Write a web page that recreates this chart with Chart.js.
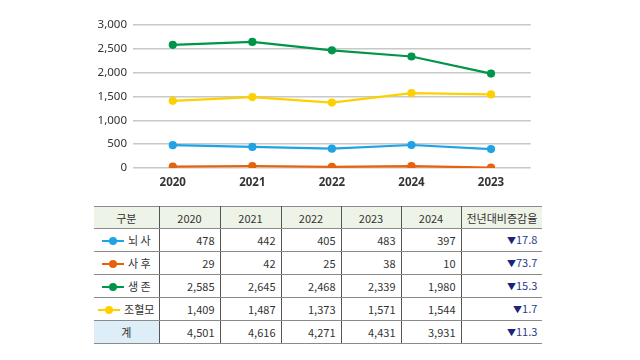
<!DOCTYPE html>
<html>
<head>
<meta charset="utf-8">
<script src="https://cdn.jsdelivr.net/npm/chart.js@4"></script>
<style>
  body { margin: 0; width: 640px; height: 360px; background: #fff; overflow: hidden;
         font-family: "Noto Sans CJK KR", "Noto Sans", sans-serif; }
  #chartBox { position: absolute; left: 80px; top: 0; width: 456px; height: 193px; }
  table { position: absolute; left: 94px; top: 206px; border-collapse: collapse;
          font-size: 11px; line-height: 12px; color: #333; table-layout: fixed; }
  th, td { border-top: 1px solid #8a8a8a; border-bottom: 1px solid #8a8a8a;
           border-left: 1px solid #555; border-right: 1px solid #555; padding: 0 5px;
           white-space: nowrap; overflow: hidden; }
  tr > :first-child { border-left: none; }
  tr > :last-child { border-right: none; }
  th { background: #eef3e7; font-weight: normal; height: 21px; }
  td { height: 22px; text-align: right; }
  td.name { text-align: center; padding: 0 2px; }
  td.rate { color: #2c3a8a; }
  td.rate b { font-size: 9px; font-weight: normal; color: #1a237e; }
  tr.total td.name { background: #deeef9; }
  .mark { display: inline-block; position: relative; width: 22px; height: 2px;
          vertical-align: middle; margin-right: 4px; top: -1px; }
  .mark i { position: absolute; left: 7px; top: -3px; width: 8px; height: 8px; border-radius: 50%; }
</style>
</head>
<body>
<div id="chartBox"><canvas id="c"></canvas></div>
<table id="t"></table>
<script>
// x-axis labels as printed on the chart
var chartLabels = ['2020', '2021', '2022', '2024', '2023'];
var years = ['2020', '2021', '2022', '2023', '2024'];
var seriesNames = ['뇌사', '사후', '생존', '조혈모'];
var brainDeath = [478, 442, 405, 483, 397];
var afterDeath = [29, 42, 25, 38, 10];
var living = [2585, 2645, 2468, 2339, 1980];
var marrow = [1409, 1487, 1373, 1571, 1544];
var totals = [4501, 4616, 4271, 4431, 3931];
var rates = ['17.8', '73.7', '15.3', '1.7', '11.3'];
var colors = ['#1fa3e4', '#e8620c', '#00964a', '#ffd000'];

var seriesData = [brainDeath, afterDeath, living, marrow];

var datasets = seriesNames.map(function(name, i) {
  return {
    label: name,
    data: seriesData[i],
    borderColor: colors[i],
    backgroundColor: colors[i],
    borderWidth: 2.2,
    pointRadius: 3,
    pointHoverRadius: 3,
    tension: 0
  };
});

new Chart(document.getElementById('c'), {
  type: 'line',
  data: { labels: chartLabels, datasets: datasets },
  options: {
    responsive: true,
    maintainAspectRatio: false,
    animation: false,
    layout: { padding: { top: 25, right: 1, bottom: 0, left: 0 } },
    plugins: { legend: { display: false }, tooltip: { enabled: false } },
    scales: {
      x: {
        offset: true,
        grid: { display: false },
        border: { display: false },
        ticks: { color: '#333', padding: 0, font: { size: 11.5, weight: 'bold', family: 'Noto Sans' } },
        afterFit: function(s) { s.height = 25; }
      },
      y: {
        min: 0, max: 3000,
        ticks: { stepSize: 500, color: '#333', padding: 6,
                 font: { size: 11.5, family: 'Noto Sans' },
                 callback: function(v) { return v.toLocaleString('en-US'); } },
        grid: { color: '#c8c8c8', lineWidth: 1.5, drawTicks: false },
        border: { display: false },
        afterFit: function(s) { s.width = 53; }
      }
    }
  }
});

// table under the chart
var colW = [65, 61, 61, 60, 60, 60, 76];
var t = document.getElementById('t');
var cg = '<colgroup>' + colW.map(function(w) { return '<col style="width:' + w + 'px">'; }).join('') + '</colgroup>';
var html = cg + '<tr><th>구분</th>' + years.map(function(y) { return '<th>' + y + '</th>'; }).join('') + '<th>전년대비증감율</th></tr>';
function fmt(v) { return v.toLocaleString('en-US'); }
function rateCell(r) { return '<td class="rate"><b>▼</b>' + r + '</td>'; }
seriesNames.forEach(function(name, i) {
  html += '<tr><td class="name"><span class="mark" style="background:' + colors[i] + '"><i style="background:' + colors[i] + '"></i></span>' + name.split('').join(name.length < 3 ? ' ' : '') + '</td>' +
    seriesData[i].map(function(v) { return '<td>' + fmt(v) + '</td>'; }).join('') +
    rateCell(rates[i]) + '</tr>';
});
html += '<tr class="total"><td class="name">계</td>' + totals.map(function(v) { return '<td>' + fmt(v) + '</td>'; }).join('') +
  rateCell(rates[4]) + '</tr>';
t.innerHTML = html;
</script>
</body>
</html>
